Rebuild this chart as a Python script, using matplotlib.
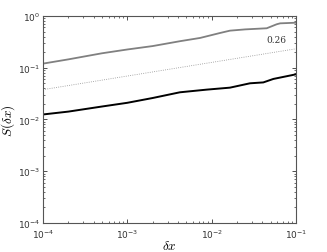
import matplotlib
matplotlib.use("Agg")
import matplotlib.pyplot as plt

# Data
dx_gray = [1e-4, 2e-4, 5e-4, 1e-3, 2e-3, 4.2e-3, 7.3e-3, 1.26e-2, 1.65e-2, 2.5e-2, 4.5e-2, 5.9e-2, 6.5e-2, 1e-1]
S_gray = [0.12, 0.145, 0.19, 0.225, 0.262, 0.325, 0.376, 0.469, 0.52, 0.55, 0.578, 0.69, 0.72, 0.74]
dx_black = [1e-4, 2e-4, 5e-4, 1e-3, 2e-3, 4.2e-3, 8.7e-3, 1.65e-2, 2.85e-2, 4.1e-2, 5.4e-2, 1e-1]
S_black = [0.0125, 0.0142, 0.0178, 0.021, 0.026, 0.0335, 0.0377, 0.0412, 0.050, 0.052, 0.0607, 0.0745]
ref_x = [1e-4, 1e-1]
ref_y = [0.0377, 0.232]
slope_label = "0.26"

plt.rcParams['mathtext.fontset'] = 'cm'
fig = plt.figure(figsize=(3.27, 2.53), dpi=100)
ax = fig.add_axes([0.1315, 0.1146, 0.7735, 0.8184])

ax.plot(dx_gray, S_gray, color='#808080', lw=1.3)
ax.plot(dx_black, S_black, color='black', lw=1.4)
ax.plot(ref_x, ref_y, color='#909090', lw=0.6, ls=':')
ax.text(0.058, 0.344, slope_label, family='DejaVu Serif', fontsize=6.5, color='#333333', ha='center', va='center')

ax.set_xscale('log')
ax.set_yscale('log')
ax.set_xlim(1e-4, 1e-1)
ax.set_ylim(1e-4, 1)
ax.tick_params(which='both', direction='in', top=True, right=True, labelsize=6.5, colors='#333333')
ax.tick_params(which='major', length=3, width=0.6)
ax.tick_params(which='minor', length=1.6, width=0.5)
ax.tick_params(axis='x', pad=3.5)
ax.tick_params(axis='y', pad=2)
for s in ax.spines.values():
    s.set_color('#555555')
    s.set_linewidth(0.8)
ax.set_xlabel(r'$\delta x$', fontsize=9.5, labelpad=-1)
ax.set_ylabel(r'$S(\delta x)$', fontsize=9.5, labelpad=0.5)
fig.savefig('out.png', dpi=100)
